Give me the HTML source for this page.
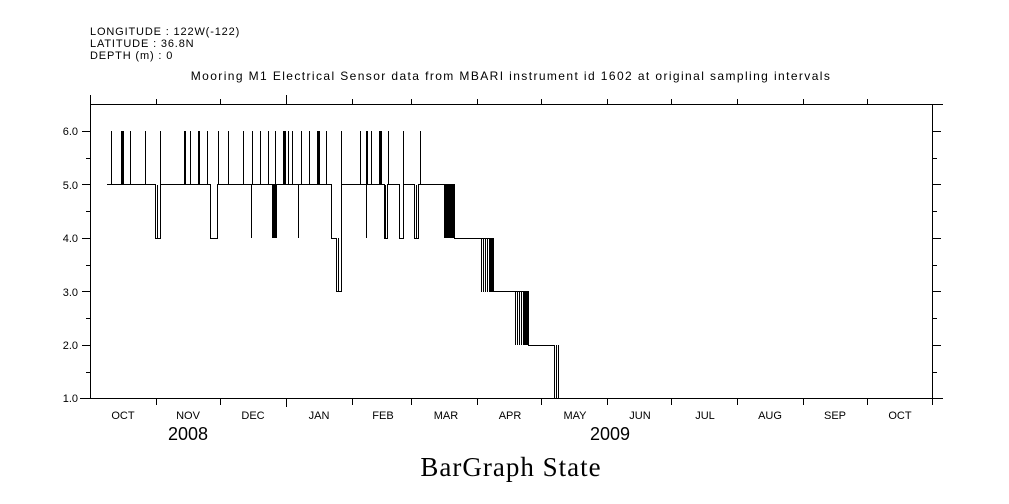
<!DOCTYPE html>
<html><head><meta charset="utf-8"><style>
html,body{margin:0;padding:0;background:#fff;}
svg{display:block;}
text{font-family:"Liberation Sans",sans-serif;fill:#000;}
</style></head><body>
<svg width="1009" height="504" viewBox="0 0 1009 504" xmlns="http://www.w3.org/2000/svg" shape-rendering="crispEdges">
<text x="90" y="35" font-size="11" letter-spacing="0.85">LONGITUDE : 122W(-122)</text>
<text x="90" y="47" font-size="11" letter-spacing="0.85">LATITUDE : 36.8N</text>
<text x="90" y="59" font-size="11" letter-spacing="0.85">DEPTH (m) : 0</text>
<text x="511" y="80" font-size="12" letter-spacing="1.4" text-anchor="middle">Mooring M1 Electrical Sensor data from MBARI instrument id 1602 at original sampling intervals</text>
<g stroke="#000" stroke-width="1" fill="none">
<rect x="90.5" y="104.5" width="842" height="294"/>
<path d="M80 398.5H943M90.5 104.5H943M90.5 104.5V95"/>
<path d="M82 131.5H90M86 158.5H90M82 184.5H90M86 211.5H90M82 238.5H90M86 265.5H90M82 291.5H90M86 318.5H90M82 345.5H90M86 372.5H90
M933 131.5H941M933 158.5H937M933 184.5H941M933 211.5H937M933 238.5H941M933 265.5H937M933 291.5H941M933 318.5H937M933 345.5H941M933 372.5H937"/>
<path d="M156.5 398V405M220.5 398V405M286.5 398V407M352.5 398V405M411.5 398V405M477.5 398V405M541.5 398V405M607.5 398V405M671.5 398V405M737.5 398V405M803.5 398V405M867.5 398V405M932.5 398V405
M156.5 104V99M220.5 104V99M286.5 104V95M352.5 104V99M411.5 104V99M477.5 104V99M541.5 104V99M607.5 104V99M671.5 104V99M737.5 104V99M803.5 104V99M867.5 104V99"/>
<path d="M111.5 185V131M121.5 185V131M122.5 185V131M123.5 185V131M130.5 185V131M145.5 185V131M160.5 185V131M184.5 185V131M185.5 185V131M190.5 185V131M198.5 185V131M199.5 185V131M207.5 185V131M218.5 185V131M228.5 185V131M243.5 185V131M252.5 185V131M260.5 185V131M268.5 185V131M275.5 185V131M283.5 185V131M284.5 185V131M285.5 185V131M288.5 185V131M292.5 185V131M301.5 185V131M309.5 185V131M317.5 185V131M318.5 185V131M319.5 185V131M326.5 185V131M341.5 185V131M360.5 185V131M366.5 185V131M367.5 185V131M371.5 185V131M379.5 185V131M380.5 185V131M381.5 185V131M388.5 185V131M403.5 185V131M420.5 185V131"/>
<path d="M157.5 185V238M251.5 185V238M272.5 185V238M273.5 185V238M274.5 185V238M275.5 185V238M276.5 185V238M298.5 185V238M366.5 185V238M385.5 185V238M416.5 185V238M338.5 238V292"/>
<path d="M107 184.5H155.5V238.5H160.5V184.5H210.5V238.5H217.5V184.5H331.5V238.5H336.5V291.5H341.5V184.5H384.5V238.5H387.5V184.5H399.5V238.5H403.5V184.5H414.5V238.5H418.5V184.5H454.5V238.5H493.5V291.5H528.5V345.5H554.5V398"/>
<path d="M446.5 185V238M481.5 238V292M483.5 238V292M485.5 238V292M487.5 238V292M515.5 292V345M517.5 292V345M519.5 292V345M521.5 292V345M556.5 345V398M558.5 345V398"/>
</g>
<rect x="444" y="185" width="10" height="53" fill="#000"/>
<rect x="489" y="238" width="4" height="54" fill="#000"/>
<rect x="523" y="292" width="5" height="53" fill="#000"/>
<g font-size="11" text-anchor="end">
<text x="78" y="135">6.0</text><text x="78" y="189">5.0</text><text x="78" y="242">4.0</text><text x="78" y="296">3.0</text><text x="78" y="349">2.0</text><text x="78" y="402">1.0</text>
</g>
<g font-size="11" text-anchor="middle">
<text x="123" y="419">OCT</text><text x="188" y="419">NOV</text><text x="253" y="419">DEC</text><text x="319" y="419">JAN</text><text x="383" y="419">FEB</text><text x="446" y="419">MAR</text><text x="510" y="419">APR</text><text x="575" y="419">MAY</text><text x="640" y="419">JUN</text><text x="705" y="419">JUL</text><text x="770" y="419">AUG</text><text x="835" y="419">SEP</text><text x="900" y="419">OCT</text>
</g>
<text x="188" y="440" font-size="18" text-anchor="middle">2008</text>
<text x="610" y="440" font-size="18" text-anchor="middle">2009</text>
<text x="511" y="476" font-size="27" letter-spacing="1" text-anchor="middle" style="font-family:'Liberation Serif',serif">BarGraph State</text>
</svg>
</body></html>
